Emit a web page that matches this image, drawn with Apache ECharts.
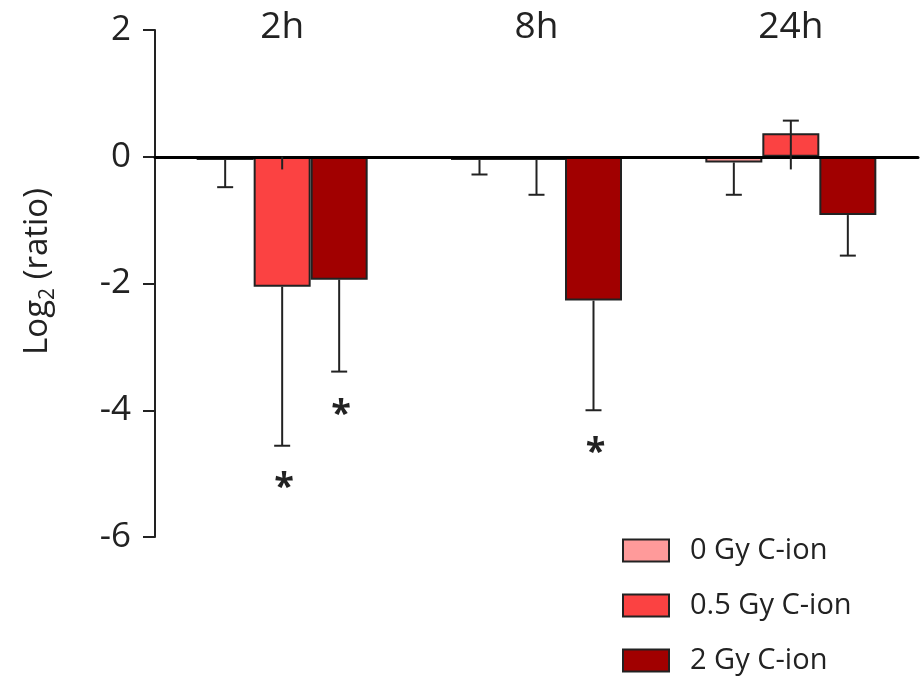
<!DOCTYPE html>
<html>
<head>
<meta charset="utf-8">
<script src="https://cdn.jsdelivr.net/npm/echarts@6/dist/echarts.min.js"></script>
</head>
<body style="margin:0;background:#fff;">
<div id="chart" style="width:922px;height:677px;"></div>
<script type="text/javascript">
var groups = ['2h', '8h', '24h'];
var seriesNames = ['0 Gy C-ion', '0.5 Gy C-ion', '2 Gy C-ion'];
var dose0 = [-0.05, -0.05, -0.09];
var dose05 = [-2.05, -0.05, 0.37];
var dose2 = [-1.94, -2.27, -0.92];
// error bars: [group, series, from, to, cap]
var errBars = [
	[0, 0, -0.05, -0.48, 1],
	[0, 1, -2.05, -4.56, 1],
	[0, 1, 0, -0.2, 0],
	[0, 2, -1.94, -3.39, 1],
	[1, 0, -0.05, -0.28, 1],
	[1, 1, -0.05, -0.6, 1],
	[1, 2, -2.27, -4.0, 1],
	[2, 0, -0.09, -0.6, 1],
	[2, 1, -0.2, 0.57, 1],
	[2, 2, -0.92, -1.56, 1]
];
// significance marks: [group, series, y]
var stars = [
	[0, 1, -5.22],
	[0, 2, -4.07],
	[1, 2, -4.67]
];
var yTicks = [-6, -4, -2, 0, 2];

var colors = ['#ff9a9a', '#fb4242', '#a10000'];
var font = '"Open Sans", sans-serif';
var barW = 57;

var chart = echarts.init(document.getElementById('chart'));

function offsetX(s) { return (s - 1) * barW; }

var option = {
	animation: false,
	grid: { left: 155, right: 4, top: 30, bottom: 140 },
	legend: {
		orient: 'vertical',
		left: 622,
		top: 536,
		padding: 0,
		icon: 'rect',
		itemWidth: 46,
		itemHeight: 22,
		itemGap: 26,
		data: seriesNames,
		textStyle: { fontFamily: font, fontSize: 29, color: '#222', padding: [0, 0, 0, 16] }
	},
	xAxis: [
		{
			type: 'category',
			data: groups,
			z: 5,
			axisLine: { onZero: true, lineStyle: { color: '#000', width: 3 } },
			axisTick: { show: false },
			axisLabel: { show: false }
		},
		{
			type: 'category',
			data: groups,
			position: 'top',
			axisLine: { show: false, onZero: false },
			axisTick: { show: false },
			axisLabel: { fontFamily: font, fontSize: 37, color: '#222', margin: 3, verticalAlign: 'middle' }
		}
	],
	yAxis: {
		type: 'value',
		min: -6,
		max: 2,
		interval: 2,
		name: '{n|Log}{s|2}{n| (ratio)}',
		nameLocation: 'middle',
		nameGap: 96,
		nameTextStyle: {
			fontFamily: font, fontSize: 33, color: '#222', padding: [0, 0, 0, 24],
			rich: {
				n: { fontFamily: font, fontSize: 33, color: '#222', lineHeight: 42 },
				s: { fontFamily: font, fontSize: 21, color: '#222', lineHeight: 25, verticalAlign: 'bottom' }
			}
		},
		axisLine: { show: true, lineStyle: { color: '#222', width: 2 } },
		axisTick: { show: true, length: 12, lineStyle: { color: '#222', width: 2 } },
		axisLabel: {
			fontFamily: font, fontSize: 35, color: '#222', margin: 24,
			formatter: function (v) { return yTicks.indexOf(v) >= 0 ? String(v) : ''; }
		},
		splitLine: { show: false }
	},
	series: [
		{ name: seriesNames[0], type: 'bar', data: dose0, barWidth: barW, barGap: '0%',
		  itemStyle: { color: colors[0], borderColor: '#222', borderWidth: 2 } },
		{ name: seriesNames[1], type: 'bar', data: dose05, barWidth: barW, barGap: '0%',
		  itemStyle: { color: colors[1], borderColor: '#222', borderWidth: 2 } },
		{ name: seriesNames[2], type: 'bar', data: dose2, barWidth: barW, barGap: '0%',
		  itemStyle: { color: colors[2], borderColor: '#222', borderWidth: 2 } },
		{
			type: 'custom',
			z: 6,
			data: errBars,
			renderItem: function (params, api) {
				var g = api.value(0), s = api.value(1);
				var p1 = api.coord([g, api.value(2)]);
				var p2 = api.coord([g, api.value(3)]);
				var x = p1[0] + offsetX(s);
				var st = { stroke: '#222', lineWidth: 2 };
				var children = [{ type: 'line', shape: { x1: x, y1: p1[1], x2: x, y2: p2[1] }, style: st }];
				if (api.value(4)) {
					children.push({ type: 'line', shape: { x1: x - 8, y1: p2[1], x2: x + 8, y2: p2[1] }, style: st });
				}
				return { type: 'group', children: children };
			}
		},
		{
			type: 'custom',
			z: 6,
			data: stars,
			renderItem: function (params, api) {
				var g = api.value(0), s = api.value(1);
				var p = api.coord([g, api.value(2)]);
				return {
					type: 'text',
					x: p[0] + offsetX(s) + 2,
					y: p[1],
					style: { text: '*', fill: '#222', font: 'bold 36px ' + font, align: 'center', verticalAlign: 'middle' }
				};
			}
		}
	]
};
chart.setOption(option);
</script>
</body>
</html>
